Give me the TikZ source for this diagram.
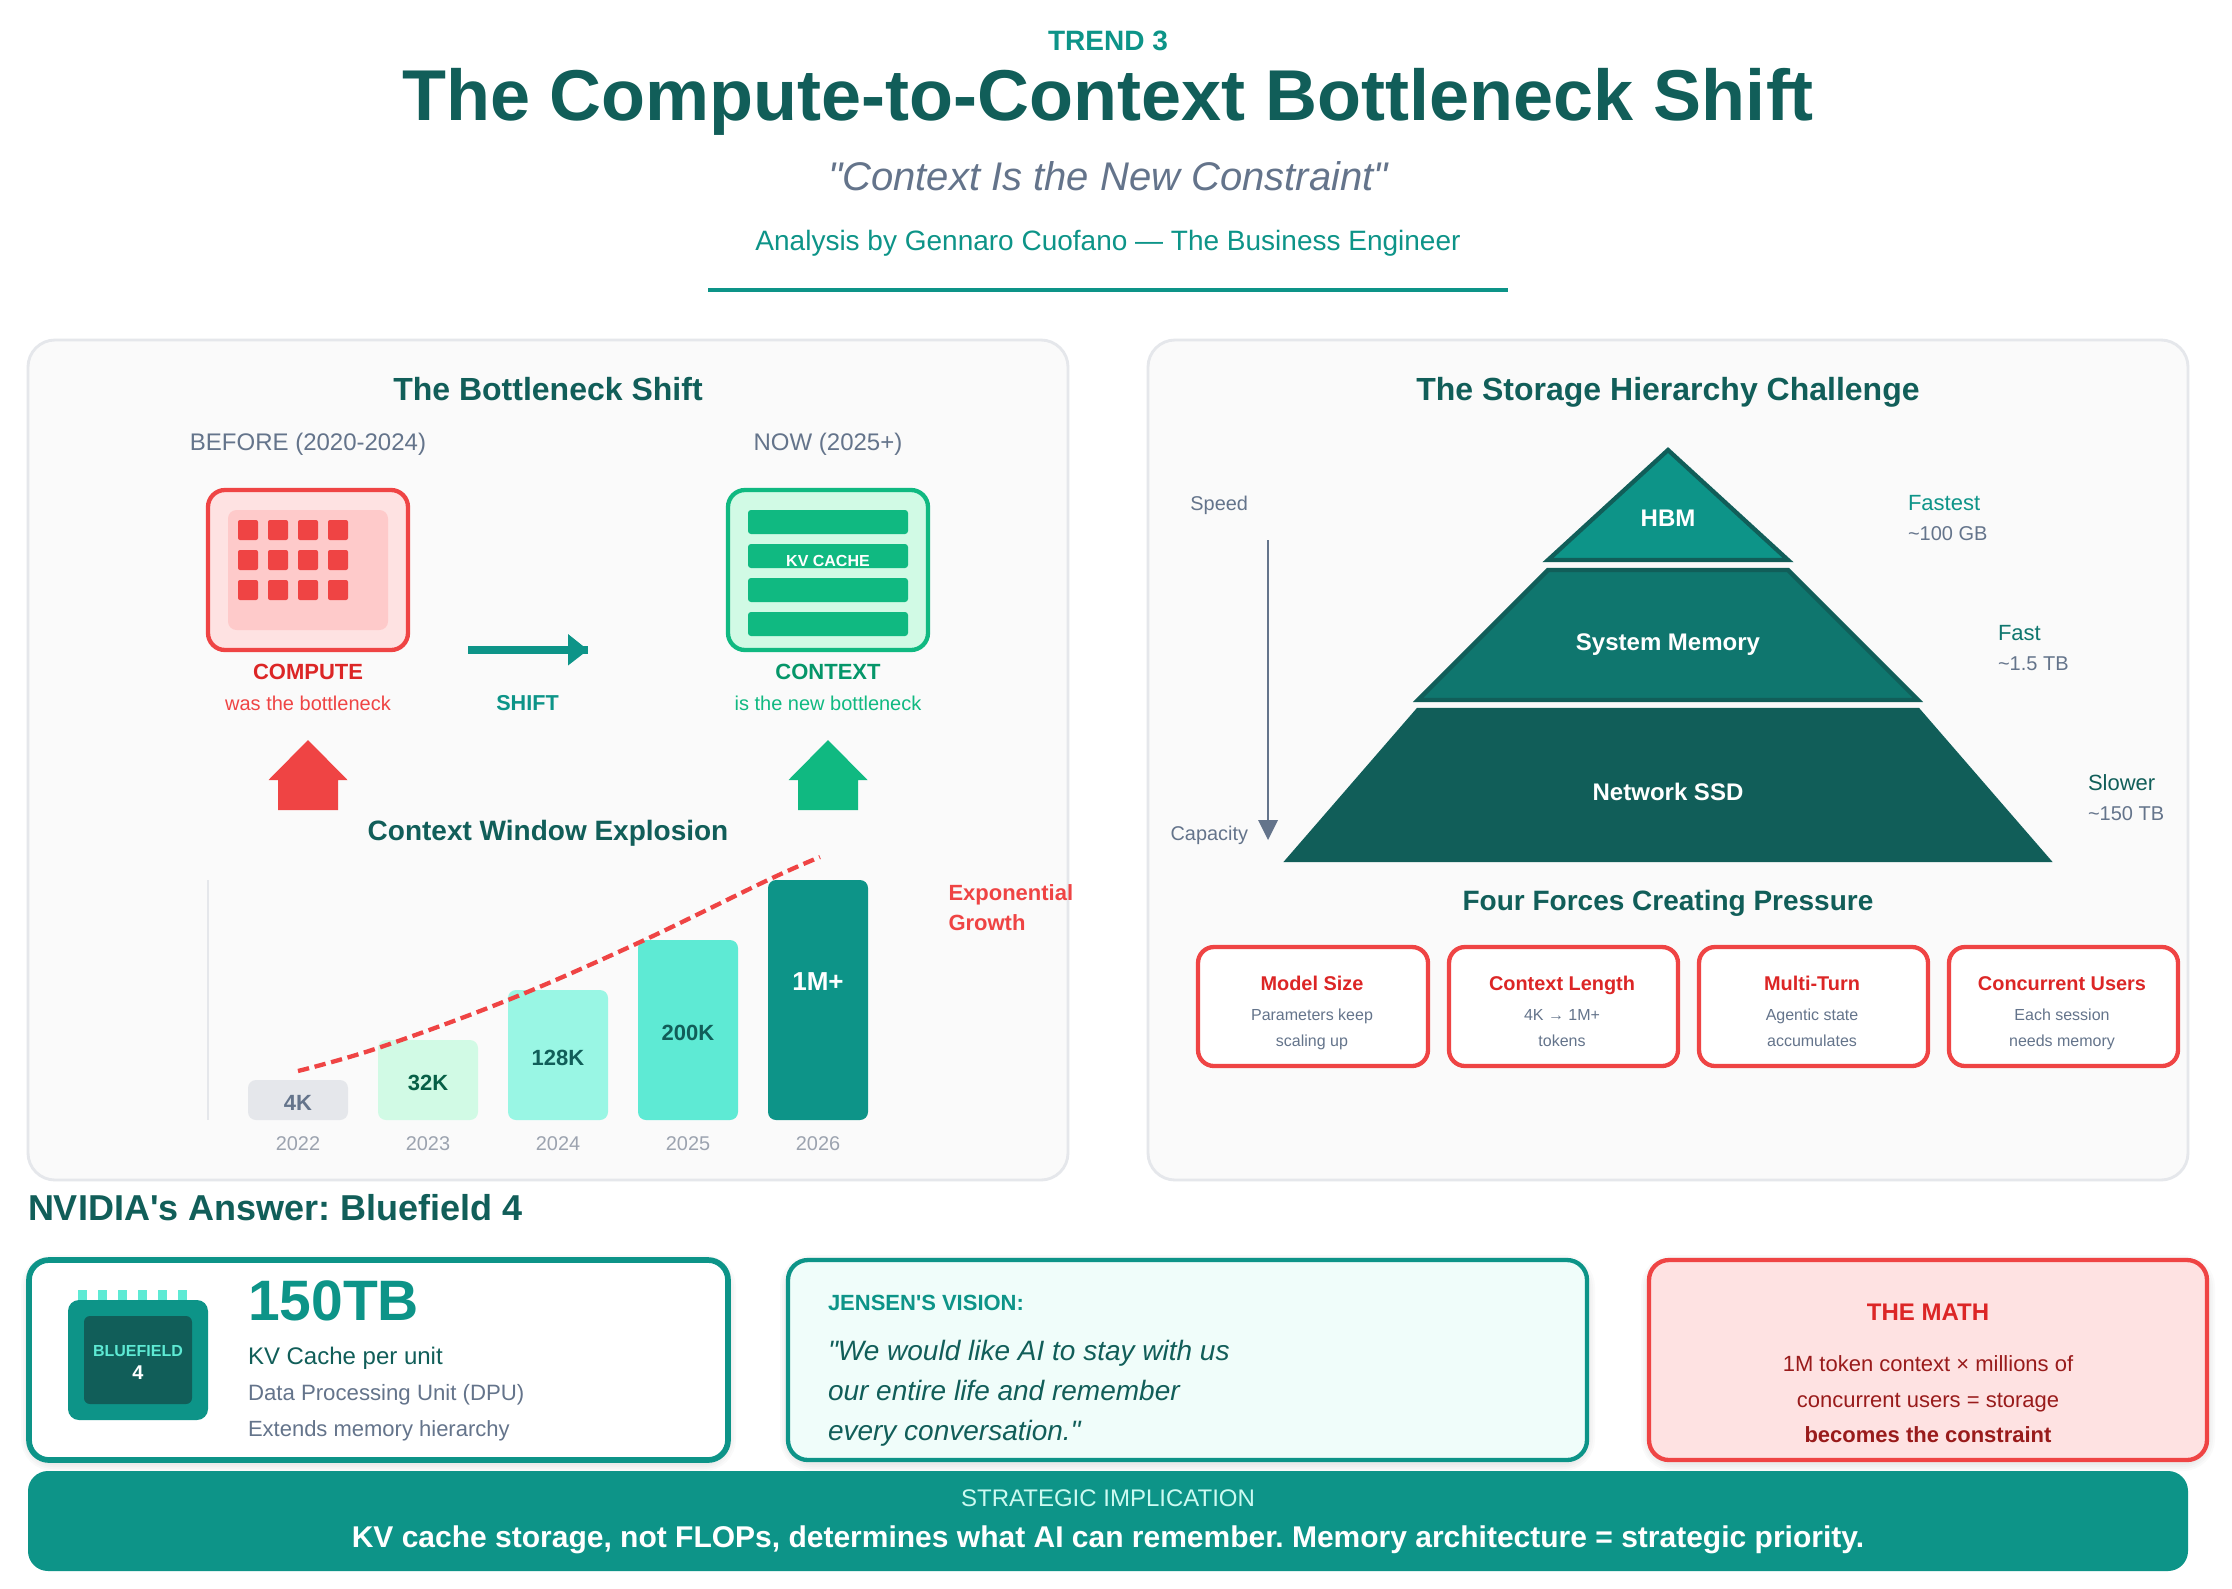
\documentclass[tikz,border=0pt]{standalone}
\usepackage{fontspec}
\setmainfont{Liberation Sans}[Ligatures={NoCommon,TeXOff}]
\usetikzlibrary{arrows.meta}
\definecolor{teal6}{HTML}{0D9488}
\definecolor{teal7}{HTML}{0F766E}
\definecolor{teal8}{HTML}{115E59}
\definecolor{teal3}{HTML}{5EEAD4}
\definecolor{teal2}{HTML}{99F6E4}
\definecolor{teal0}{HTML}{F0FDFA}
\definecolor{red5}{HTML}{EF4444}
\definecolor{red6}{HTML}{DC2626}
\definecolor{red8}{HTML}{991B1B}
\definecolor{red1}{HTML}{FEE2E2}
\definecolor{red2}{HTML}{FECACA}
\definecolor{em5}{HTML}{10B981}
\definecolor{em6}{HTML}{059669}
\definecolor{em1}{HTML}{D1FAE5}
\definecolor{em9}{HTML}{065F46}
\definecolor{slate}{HTML}{64748B}
\definecolor{grayA}{HTML}{9CA3AF}
\definecolor{grayB}{HTML}{E5E7EB}
\definecolor{cardbg}{HTML}{FAFAFA}
\tikzset{
  txt/.style={inner sep=0pt,outer sep=0pt,anchor=base},
  txtl/.style={inner sep=0pt,outer sep=0pt,anchor=base west},
  txtr/.style={inner sep=0pt,outer sep=0pt,anchor=base east},
  reg/.style={font=\fontsize{#1}{#1}\selectfont},
  bld/.style={font=\fontsize{#1}{#1}\selectfont\bfseries},
  ita/.style={font=\fontsize{#1}{#1}\selectfont\itshape},
  card/.style={draw=grayB,line width=2.85pt,fill=cardbg,rounded corners=27pt},
  softshadow/.style={draw=black,draw opacity=0.018,line width=#1,fill=none,rounded corners=24pt},
  pbar/.style={rounded corners=8pt},
  force/.style={draw=red5,fill=white,line width=4.3pt,rounded corners=16pt},
  ttl/.style={txt,bld=32,text=teal8},
  sub/.style={txt,bld=28,text=teal8},
  forcehead/.style={txt,bld=19.9,text=red6},
  forcebody/.style={txt,reg=16,text=slate},
  year/.style={txt,reg=19.9,text=grayA},
  barval/.style={txt,bld=22},
}
\begin{document}
\frenchspacing
\begin{tikzpicture}[x=1pt,y=-1pt]
\useasboundingbox (0,0) rectangle (2232,1588);
\fill[white] (0,0) rectangle (2232,1588);
% header
\node[txt,bld=28,text=teal6] (trend) at (1108,50) {TREND 3};
\node[txt,bld=72,text=teal8] (title) at (1108,120) {The Compute-to-Context Bottleneck Shift};
\node[txt,ita=40,text=slate] (subtitle) at (1108,190) {"Context Is the New Constraint"};
\node[txt,reg=28,text=teal6] (byline) at (1108,250) {Analysis by Gennaro Cuofano — The Business Engineer};
\fill[teal6] (708,288) rectangle (1508,292);
% cards
\draw[card] (28,340) rectangle (1068,1180);
\draw[card] (1148,340) rectangle (2188,1180);
% left card
\node[ttl] (leftttl) at (548,400) {The Bottleneck Shift};
\node[txt,reg=24,text=slate] (before) at (308,450) {BEFORE (2020-2024)};
\node[txt,reg=24,text=slate] (now) at (828,450) {NOW (2025+)};
% compute box
\draw[draw=red5,fill=red1,line width=4.3pt,rounded corners=17pt] (208,490) rectangle (408,650);
\fill[red2,rounded corners=8.5pt] (228,510) rectangle (388,630);
\foreach \gy in {520,550,580}{\foreach \gx in {238,268,298,328}{
  \fill[red5,rounded corners=2pt] (\gx,\gy) rectangle ++(20,20);}}
% context box
\draw[draw=em5,fill=em1,line width=4.3pt,rounded corners=17pt] (728,490) rectangle (928,650);
\foreach \gy in {510,544,578,612}{
  \fill[em5,rounded corners=3pt] (748,\gy) rectangle ++(160,24);}
\node[txt,bld=16,text=white] (kv) at (828,566) {KV CACHE};
\node[txt,bld=22,text=red6] (compute) at (308,679) {COMPUTE};
\node[txt,reg=20,text=red5] (wasb) at (308,710) {was the bottleneck};
\node[txt,bld=22,text=em6] (context) at (828,679) {CONTEXT};
\node[txt,reg=20,text=em5] (isb) at (828,710) {is the new bottleneck};
\node[txt,bld=21.6,text=teal6] (shift) at (527.5,710) {SHIFT};
% shift arrow
\coordinate (sA) at (468,650);
\coordinate (sB) at (588,650);
\draw[teal6,line width=8.5pt] (sA) -- (sB);
\fill[teal6] (568,634) -- (588,650) -- (568,665.5) -- cycle;
% up arrows
\fill[red5] (308,740) -- (347.5,780) -- (338,780) -- (338,810) -- (278,810) -- (278,780) -- (268.5,780) -- cycle;
\fill[em5] (828,740) -- (867.5,780) -- (858,780) -- (858,810) -- (798,810) -- (798,780) -- (788.5,780) -- cycle;
% chart
\node[sub] (cwe) at (548,840) {Context Window Explosion};
\draw[grayB,line width=2pt] (208,880) -- (208,1120);
\fill[grayB,pbar] (248,1080) rectangle (348,1120);
\fill[em1,pbar] (378,1040) rectangle (478,1120);
\fill[teal2,pbar] (508,990) rectangle (608,1120);
\fill[teal3,pbar] (638,940) rectangle (738,1120);
\fill[teal6,pbar] (768,880) rectangle (868,1120);
\node[barval,text=slate] (v4) at (298,1110) {4K};
\node[barval,text=em9] (v32) at (428,1090) {32K};
\node[barval,text=teal8] (v128) at (558,1065) {128K};
\node[barval,text=teal8] (v200) at (688,1040) {200K};
\node[txt,bld=26,text=white] (v1m) at (818,990) {1M+};
\node[year] (y22) at (298,1150) {2022};
\node[year] (y23) at (428,1150) {2023};
\node[year] (y24) at (558,1150) {2024};
\node[year] (y25) at (688,1150) {2025};
\node[year] (y26) at (818,1150) {2026};
\coordinate (c0) at (298,1071);
\coordinate (c1) at (378,1048);
\coordinate (c2) at (508,1000);
\coordinate (c3) at (638,943);
\coordinate (c4) at (768,880);
\coordinate (c5) at (820,857);
\draw[red5,line width=4.3pt,dash pattern=on 11.4pt off 5.7pt] plot[smooth,tension=0.6] coordinates {(c0) (c1) (c2) (c3) (c4) (c5)};
\node[txtl,bld=22,text=red5] (exp1) at (948.5,900) {Exponential};
\node[txtl,bld=22,text=red5] (exp2) at (948.5,930) {Growth};
% right card
\node[ttl] (rightttl) at (1668,400) {The Storage Hierarchy Challenge};
\draw[draw=teal8,fill=teal6,line width=4.3pt,line join=miter] (1668,450) -- (1788,560) -- (1548,560) -- cycle;
\draw[draw=teal8,fill=teal7,line width=4.3pt,line join=miter] (1548,570) -- (1788,570) -- (1918,700) -- (1418,700) -- cycle;
\draw[draw=teal8,fill=teal8,line width=4.3pt,line join=miter] (1418,710) -- (1918,710) -- (2048,860) -- (1288,860) -- cycle;
\node[txt,bld=24,text=white] (hbm) at (1668,526) {HBM};
\node[txt,bld=24,text=white] (sysm) at (1668,650) {System Memory};
\node[txt,bld=24,text=white] (ssd) at (1668,800) {Network SSD};
\node[txtl,reg=22,text=teal6] (l1a) at (1908,510) {Fastest};
\node[txtl,reg=20,text=slate] (l1b) at (1908,540) {\textasciitilde100 GB};
\node[txtl,reg=22,text=teal7] (l2a) at (1998,640) {Fast};
\node[txtl,reg=20,text=slate] (l2b) at (1998,670) {\textasciitilde1.5 TB};
\node[txtl,reg=22,text=teal8] (l3a) at (2088,790) {Slower};
\node[txtl,reg=20,text=slate] (l3b) at (2088,820) {\textasciitilde150 TB};
\node[txtr,reg=19.9,text=slate] (speed) at (1248,510) {Speed};
\node[txtr,reg=19.9,text=slate] (capacity) at (1248,840) {Capacity};
\coordinate (spA) at (1268,540);
\coordinate (spB) at (1268,838);
\draw[slate,line width=2.85pt] (spA) -- (spB);
\fill[slate] (1258,820) -- (1278,820) -- (1268,840) -- cycle;
\node[sub] (fourf) at (1668,910) {Four Forces Creating Pressure};
\draw[force] (1198,947) rectangle (1428,1066);
\draw[force] (1449,947) rectangle (1678,1066);
\draw[force] (1699,947) rectangle (1928,1066);
\draw[force] (1949,947) rectangle (2178,1066);
\node[forcehead] (f1) at (1312,990) {Model Size};
\node[forcebody] (f1a) at (1312,1020) {Parameters keep};
\node[forcebody] (f1b) at (1312,1046) {scaling up};
\node[forcehead] (f2) at (1562,990) {Context Length};
\node[forcebody] (f2a) at (1562,1020) {4K → 1M+};
\node[forcebody] (f2b) at (1562,1046) {tokens};
\node[forcehead] (f3) at (1812,990) {Multi-Turn};
\node[forcebody] (f3a) at (1812,1020) {Agentic state};
\node[forcebody] (f3b) at (1812,1046) {accumulates};
\node[forcehead] (f4) at (2062,990) {Concurrent Users};
\node[forcebody] (f4a) at (2062,1020) {Each session};
\node[forcebody] (f4b) at (2062,1046) {needs memory};
% bottom
\node[txtl,bld=36,text=teal8] (nvidia) at (28,1220) {NVIDIA's Answer: Bluefield 4};
\foreach \w in {4,8,12,16}{
  \draw[softshadow=\w pt] (29,1263) rectangle (728,1463);
  \draw[softshadow=\w pt] (788,1263) rectangle (1587,1463);
  \draw[softshadow=\w pt] (1649,1263) rectangle (2207,1463);
}
\draw[draw=teal6,fill=white,line width=5.7pt,rounded corners=20pt] (29,1260) rectangle (728,1460);
\foreach \px in {78,98,118,138,158,178}{\fill[teal3] (\px,1290) rectangle ++(9,10);}
\fill[teal6,rounded corners=11pt] (68,1300) rectangle (208,1420);
\fill[teal8,rounded corners=6pt] (84,1316) rectangle (192,1404);
\node[txt,bld=16,text=teal3] (bf) at (138,1356) {BLUEFIELD};
\node[txt,bld=19.9,text=white] (bf4) at (138,1379) {4};
\node[txtl,bld=57,text=teal6] (tb) at (248,1320) {150TB};
\node[txtl,reg=24,text=teal8] (kvu) at (248,1364) {KV Cache per unit};
\node[txtl,reg=22.2,text=slate] (dpu) at (248,1400) {Data Processing Unit (DPU)};
\node[txtl,reg=22,text=slate] (ext) at (248,1436) {Extends memory hierarchy};
\draw[draw=teal6,fill=teal0,line width=4.3pt,rounded corners=20pt] (788,1260) rectangle (1587,1460);
\node[txtl,bld=22,text=teal6] (jv) at (828,1310) {JENSEN'S VISION:};
\node[txtl,ita=28,text=teal8] (q1) at (828,1360) {"We would like AI to stay with us};
\node[txtl,ita=28,text=teal8] (q2) at (828,1400) {our entire life and remember};
\node[txtl,ita=28,text=teal8] (q3) at (828,1440) {every conversation."};
\draw[draw=red5,fill=red1,line width=4.3pt,rounded corners=20pt] (1649,1260) rectangle (2207,1460);
\node[txt,bld=24,text=red6] (mth) at (1928,1320) {THE MATH};
\node[txt,reg=22,text=red8] (m1) at (1928,1371) {1M token context × millions of};
\node[txt,reg=22,text=red8] (m2) at (1928,1407) {concurrent users = storage};
\node[txt,bld=22,text=red8] (m3) at (1928,1442) {becomes the constraint};
\fill[teal6,rounded corners=20pt] (28,1471) rectangle (2188,1571);
\node[txt,reg=24,text=teal2!50!white] (si) at (1108,1506) {STRATEGIC IMPLICATION};
\node[txt,bld=30,text=white] (sm) at (1108,1547) {KV cache storage, not FLOPs, determines what AI can remember. Memory architecture = strategic priority.};
\end{tikzpicture}
\end{document}
